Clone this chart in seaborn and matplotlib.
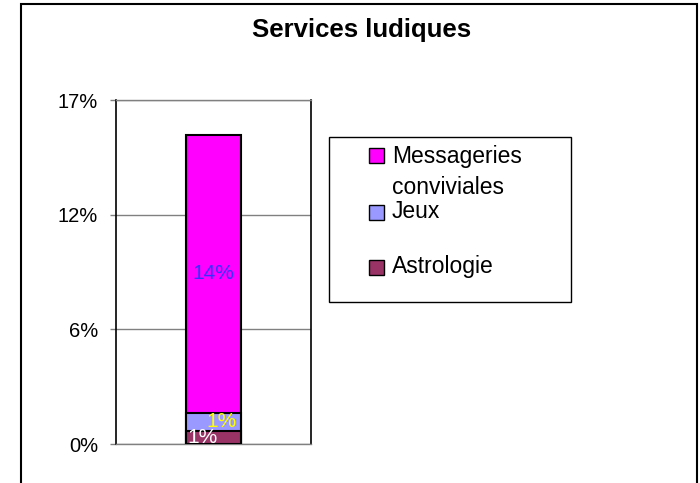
import numpy as np
import pandas as pd
import matplotlib
matplotlib.use("Agg")
import matplotlib.pyplot as plt
import seaborn as sns
from matplotlib.patches import Rectangle

sns.set_style("white")
plt.rcParams['font.family'] = ['Liberation Sans', 'DejaVu Sans']
plt.rcParams['text.color'] = 'black'
plt.rcParams['ytick.labelcolor'] = 'black'

series = ["Astrologie", "Jeux", "Messageries conviviales"]
values = [0.0066, 0.0091, 0.1406]
labels = ["1%", "1%", "14%"]
colors = ["#993366", "#9999FF", "#FF00FF"]
label_colors = ["#FFFFFF", "#FFFF00", "#3333FF"]
label_dx = [-0.056, 0.041, 0.0]
yticks = [0.0, 0.058, 0.116, 0.174]
ytick_labels = ["0%", "6%", "12%", "17%"]
category = ["Services ludiques"]
legend_text = ["Astrologie", "Jeux", "Messageries\nconviviales"]

W, H = 700, 483
fig = plt.figure(figsize=(7, 4.83), dpi=100)
fig.patches.append(Rectangle((21/W, -0.05), 676/W, 1 - 4/H + 0.05,
                             transform=fig.transFigure, fill=False,
                             edgecolor="black", linewidth=1.5, zorder=0))
ax = fig.add_axes([116/W, 39/H, 195/W, 344/H])

cum = np.cumsum(values)
for i in range(len(series) - 1, -1, -1):
    df = pd.DataFrame({"cat": category, "val": [cum[i]]})
    sns.barplot(data=df, x="cat", y="val", ax=ax, color=colors[i],
                width=0.28, edgecolor="black", linewidth=1.5,
                saturation=1, zorder=3)

bottoms = np.concatenate([[0], cum[:-1]])
for i in range(len(series)):
    ax.text(0 + label_dx[i], bottoms[i] + values[i] / 2, labels[i],
            ha="center", va="center", color=label_colors[i], fontsize=15,
            zorder=5)

ax.set_xlim(-0.5, 0.5)
ax.set_ylim(0, 0.174)
ax.set_yticks(yticks)
ax.set_yticklabels(ytick_labels, fontsize=14.5, color="black")
ax.set_xticks([])
ax.set_xlabel("")
ax.set_ylabel("")
ax.yaxis.grid(True, color="#808080", linewidth=1, zorder=0)
ax.set_axisbelow(True)
ax.tick_params(axis="y", direction="out", length=4, width=1, color="#808080",
               pad=9, left=True)
for side in ["top", "bottom"]:
    ax.spines[side].set_color("#808080")
    ax.spines[side].set_linewidth(1)
for side in ["left", "right"]:
    ax.spines[side].set_color("black")
    ax.spines[side].set_linewidth(1.2)

fig.text(362/W, 1 - 30/H, "Services ludiques", ha="center", va="center",
         fontsize=18.5, fontweight="bold", color="black")

# legend (drawn manually to match the box layout)
fig.patches.append(Rectangle((329/W, 1 - 302/H), 242/W, 165/H,
                             transform=fig.transFigure, facecolor="white",
                             edgecolor="black", linewidth=1, zorder=2))
marker_y = [267, 212, 155]
text_y = [267, 212, 172]
for i in range(len(series)):
    fig.patches.append(Rectangle((369/W, 1 - (marker_y[i] + 8)/H), 15/W, 15/H,
                                 transform=fig.transFigure,
                                 facecolor=colors[i], edgecolor="black",
                                 linewidth=1, zorder=3))
    fig.text(392/W, 1 - text_y[i]/H, legend_text[i], ha="left", va="center",
             fontsize=16.5, linespacing=1.4, color="black", zorder=4)

fig.savefig("out.png", dpi=100)
